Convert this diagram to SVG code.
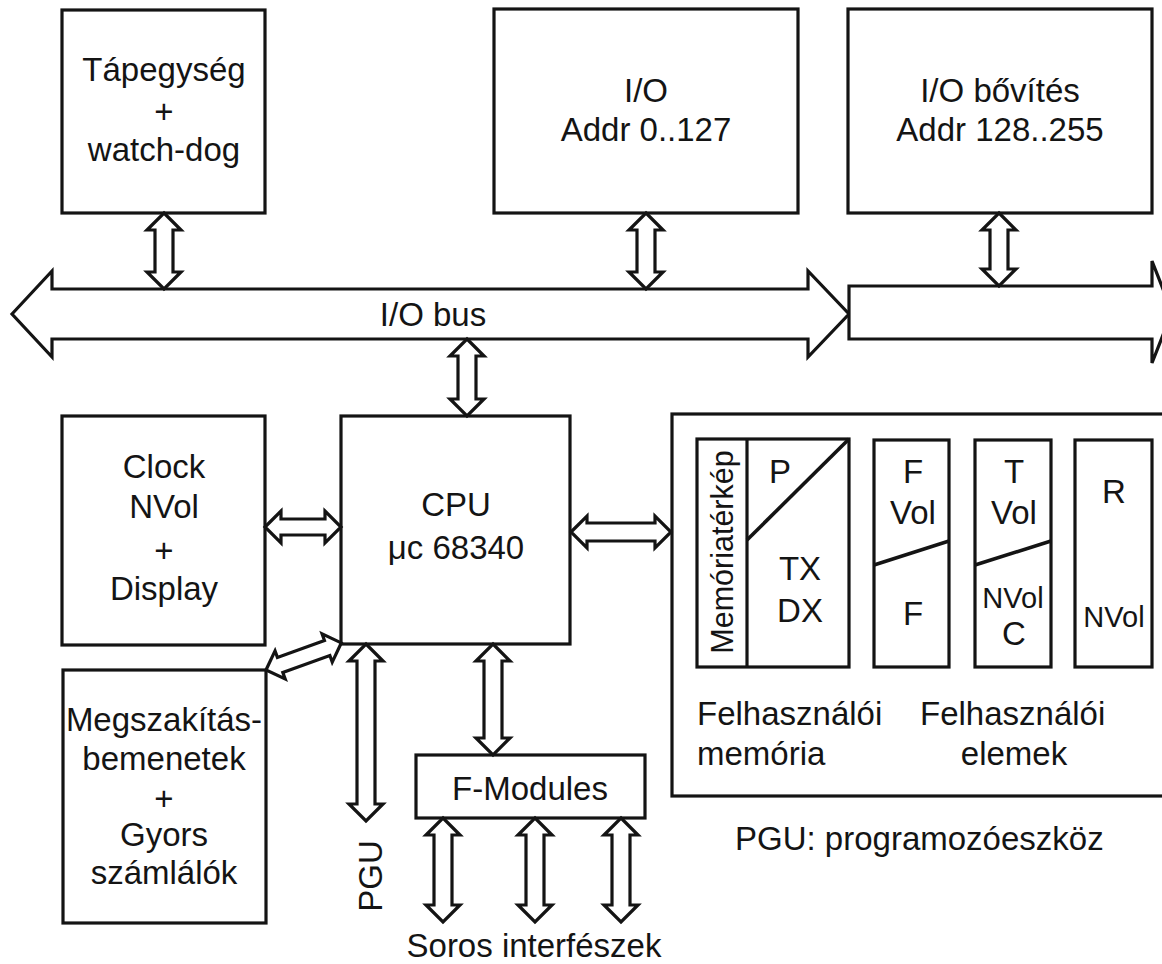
<svg xmlns="http://www.w3.org/2000/svg" width="1162" height="964" viewBox="0 0 1162 964">
<style>
.box{fill:none;stroke:#141414;stroke-width:3.2}
.arr{fill:#fff;stroke:#141414;stroke-width:3.2;stroke-linejoin:miter}
.ln{fill:none;stroke:#141414;stroke-width:3.6}
text{font-family:"Liberation Sans",Arial,sans-serif;font-size:33px;fill:#141414}
.c{text-anchor:middle}
.s{font-size:28px}
</style>
<rect width="1162" height="964" fill="#fff"/>
<g id="connectors">
<path id="bus1" class="arr" d="M12,314 L52,271 L52,289 L808,289 L808,271 L849,314 L808,357 L808,339 L52,339 L52,357 Z"/>
<path id="bus2" class="arr" d="M849,286 L1152,286 L1152,261 L1172,312 L1152,363 L1152,339 L849,339 Z"/>
<path class="arr" d="M164,213 L181,230 L173,230 L173,272 L181,272 L164,289 L147,272 L155,272 L155,230 L147,230 Z"/>
<path class="arr" d="M646,213 L663,230 L655,230 L655,272 L663,272 L646,289 L629,272 L637,272 L637,230 L629,230 Z"/>
<path class="arr" d="M999,213 L1016,230 L1008,230 L1008,269 L1016,269 L999,286 L982,269 L990,269 L990,230 L982,230 Z"/>
<path class="arr" d="M467,339 L484,356 L476,356 L476,399 L484,399 L467,416 L450,399 L458,399 L458,356 L450,356 Z"/>
<path class="arr" d="M366,644 L383,661 L375,661 L375,804 L383,804 L366,821 L349,804 L357,804 L357,661 L349,661 Z"/>
<path class="arr" d="M493,644 L510,661 L502,661 L502,738 L510,738 L493,755 L476,738 L484,738 L484,661 L476,661 Z"/>
<path class="arr" d="M443,818 L460,835 L452,835 L452,905 L460,905 L443,922 L426,905 L434,905 L434,835 L426,835 Z"/>
<path class="arr" d="M535,818 L552,835 L544,835 L544,905 L552,905 L535,922 L518,905 L526,905 L526,835 L518,835 Z"/>
<path class="arr" d="M621,818 L638,835 L630,835 L630,905 L638,905 L621,922 L604,905 L612,905 L612,835 L604,835 Z"/>
<path class="arr" d="M265,527 L281,511 L281,519 L325,519 L325,511 L341,527 L325,543 L325,535 L281,535 L281,543 Z"/>
<path class="arr" d="M571,532 L587,516 L587,523 L655,523 L655,516 L671,532 L655,548 L655,541 L587,541 L587,548 Z"/>
<path class="arr" transform="translate(266,670) rotate(-19.8)" d="M0,0 L15,-15 L15,-8 L65,-8 L65,-15 L80,0 L65,15 L65,8 L15,8 L15,15 Z"/>
<text class="c" x="433" y="326">I/O bus</text>
<text class="c" x="534" y="957">Soros interfészek</text>
<text class="c" transform="translate(382,876) rotate(-90)">PGU</text>
</g>
<g id="tapegyseg">
<rect class="box" x="62" y="10" width="203" height="203"/>
<text class="c" x="164" y="81">Tápegység</text>
<text class="c" x="164" y="123">+</text>
<text class="c" x="164" y="161">watch-dog</text>
</g>
<g id="io">
<rect class="box" x="494" y="9" width="304" height="204"/>
<text class="c" x="646" y="102">I/O</text>
<text class="c" x="646" y="141">Addr 0..127</text>
</g>
<g id="io-bovites">
<rect class="box" x="848" y="9" width="304" height="204"/>
<text class="c" x="1000" y="102">I/O bővítés</text>
<text class="c" x="1000" y="141">Addr 128..255</text>
</g>
<g id="clock">
<rect class="box" x="62" y="416" width="203" height="229"/>
<text class="c" x="164" y="478">Clock</text>
<text class="c" x="164" y="518">NVol</text>
<text class="c" x="164" y="562">+</text>
<text class="c" x="164" y="600">Display</text>
</g>
<g id="cpu">
<rect class="box" x="341" y="416" width="229" height="228"/>
<text class="c" x="456" y="516">CPU</text>
<text class="c" x="456" y="559">μc 68340</text>
</g>
<g id="megszakitas">
<rect class="box" x="63" y="670" width="203" height="253"/>
<text class="c" x="164" y="731">Megszakítás-</text>
<text class="c" x="164" y="770">bemenetek</text>
<text class="c" x="164" y="810">+</text>
<text class="c" x="164" y="846">Gyors</text>
<text class="c" x="164" y="884">számlálók</text>
</g>
<g id="f-modules">
<rect class="box" x="416" y="755" width="229" height="63"/>
<text class="c" x="530" y="800">F-Modules</text>
</g>
<g id="memoria">
<rect class="box" x="672" y="414" width="500" height="382"/>
<rect class="box" x="697" y="439" width="152" height="228"/>
<line class="box" x1="747" y1="439" x2="747" y2="667"/>
<line class="ln" x1="747" y1="540" x2="849" y2="439"/>
<text transform="translate(733,552) rotate(-90)" text-anchor="middle" style="font-size:30.5px">Memóriatérkép</text>
<text class="c" x="780" y="483">P</text>
<text class="c" x="800" y="580">TX</text>
<text class="c" x="800" y="622">DX</text>
<rect class="box" x="874" y="440" width="75" height="227"/>
<line class="ln" x1="874" y1="565" x2="949" y2="541"/>
<text class="c" x="913" y="483">F</text>
<text class="c" x="913" y="524">Vol</text>
<text class="c" x="913" y="625">F</text>
<rect class="box" x="975" y="440" width="76" height="227"/>
<line class="ln" x1="975" y1="565" x2="1051" y2="541"/>
<text class="c" x="1014" y="483">T</text>
<text class="c" x="1014" y="524">Vol</text>
<text class="c" x="1013" y="608" style="font-size:29px">NVol</text>
<text class="c" x="1014" y="645">C</text>
<rect class="box" x="1075" y="440" width="77" height="227"/>
<text class="c" x="1114" y="503">R</text>
<text class="c" x="1114" y="627" style="font-size:29px">NVol</text>
<text x="697" y="725">Felhasználói</text>
<text x="697" y="765">memória</text>
<text x="920" y="725">Felhasználói</text>
<text class="c" x="1014" y="765">elemek</text>
</g>
<text x="735" y="850">PGU: programozóeszköz</text>
</svg>
